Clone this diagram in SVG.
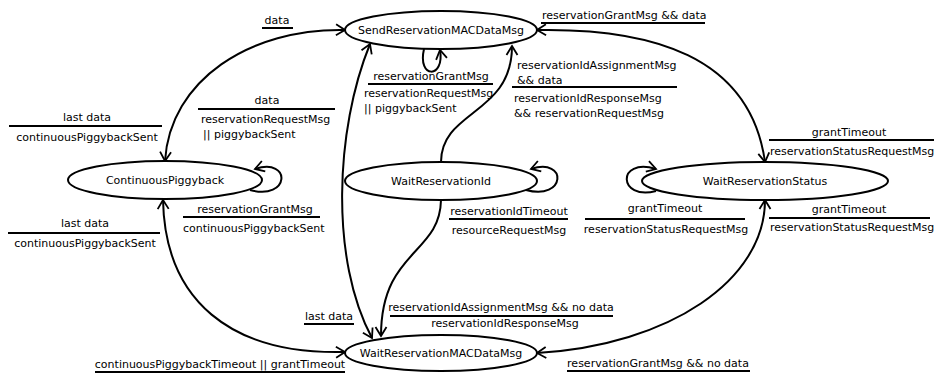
<svg xmlns="http://www.w3.org/2000/svg" width="934" height="377" viewBox="0 0 934 377">
<style>
text{font-family:"DejaVu Sans","Liberation Sans",sans-serif;font-size:11px;fill:#000}
.node{fill:#fff;stroke:#000;stroke-width:2}
.edge{fill:none;stroke:#000;stroke-width:2}
.bar{stroke:#000;stroke-width:2}
.c{text-anchor:middle}
</style>
<defs>
<marker id="arr" viewBox="-2 -2 14 15" refX="9" refY="5.5" markerWidth="14" markerHeight="15" markerUnits="userSpaceOnUse" orient="auto-start-reverse">
<path d="M0,0 L9,5.5 L0,11" fill="none" stroke="#000" stroke-width="1.8"/>
</marker>
</defs>
<rect width="934" height="377" fill="#fff"/>
<g id="connectors">
<path class="edge" d="M345,30 C250,28 170,80 165,161" marker-start="url(#arr)" marker-end="url(#arr)"/>
<path class="edge" d="M424,49 C417,79 445,79 440,50" marker-end="url(#arr)"/>
<path class="edge" d="M537,30 C650,28 750,55 765,162" marker-start="url(#arr)" marker-end="url(#arr)"/>
<path class="edge" d="M370,44 C335,130 330,260 372,338" marker-start="url(#arr)" marker-end="url(#arr)"/>
<path class="edge" d="M441,162 C441,110 512,115 512,46" marker-end="url(#arr)"/>
<path class="edge" d="M441,200 C440,255 381,250 381,336" marker-end="url(#arr)"/>
<path class="edge" d="M163,200 C165,300 230,355 345,352" marker-start="url(#arr)" marker-end="url(#arr)"/>
<path class="edge" d="M537,353 C670,345 765,280 765,200" marker-start="url(#arr)" marker-end="url(#arr)"/>
<path class="edge" d="M250,190 C290,201 292,157 255,169" marker-end="url(#arr)"/>
<path class="edge" d="M526,190 C566,201 568,157 531,169" marker-end="url(#arr)"/>
<path class="edge" d="M656,191 C618,201 616,157 656,169" marker-end="url(#arr)"/>
</g>
<g id="labels">
<text x="277" y="24" class="c">data</text>
<line class="bar" x1="262" y1="28" x2="293" y2="28"/>
<text x="542" y="19">reservationGrantMsg &amp;&amp; data</text>
<line class="bar" x1="541" y1="23" x2="705" y2="23"/>
<text x="87" y="121" class="c">last data</text>
<line class="bar" x1="9" y1="126" x2="162" y2="126"/>
<text x="87" y="141" class="c">continuousPiggybackSent</text>
<text x="267" y="104" class="c">data</text>
<line class="bar" x1="198" y1="109" x2="335" y2="109"/>
<text x="201" y="123">reservationRequestMsg</text>
<text x="203" y="138">|| piggybackSent</text>
<text x="431" y="80" class="c">reservationGrantMsg</text>
<line class="bar" x1="368" y1="84" x2="493" y2="84"/>
<text x="364" y="97">reservationRequestMsg</text>
<text x="364" y="112">|| piggybackSent</text>
<text x="517" y="69">reservationIdAssignmentMsg</text>
<text x="517" y="84"> &amp;&amp; data</text>
<line class="bar" x1="512" y1="87" x2="677" y2="87"/>
<text x="514" y="102">reservationIdResponseMsg</text>
<text x="514" y="117">&amp;&amp; reservationRequestMsg</text>
<text x="849" y="136" class="c">grantTimeout</text>
<line class="bar" x1="769" y1="140" x2="934" y2="140"/>
<text x="770" y="155">reservationStatusRequestMsg</text>
<text x="255" y="213" class="c">reservationGrantMsg</text>
<line class="bar" x1="183" y1="217" x2="320" y2="217"/>
<text x="183" y="232">continuousPiggybackSent</text>
<text x="85" y="227" class="c">last data</text>
<line class="bar" x1="8" y1="233" x2="160" y2="233"/>
<text x="85" y="247" class="c">continuousPiggybackSent</text>
<text x="509" y="215" class="c">reservationIdTimeout</text>
<line class="bar" x1="449" y1="219" x2="568" y2="219"/>
<text x="509" y="234" class="c">resourceRequestMsg</text>
<text x="665" y="212" class="c">grantTimeout</text>
<line class="bar" x1="585" y1="219" x2="745" y2="219"/>
<text x="666" y="233" class="c">reservationStatusRequestMsg</text>
<text x="849" y="213" class="c">grantTimeout</text>
<line class="bar" x1="769" y1="218" x2="930" y2="218"/>
<text x="770" y="231">reservationStatusRequestMsg</text>
<text x="501" y="311" class="c">reservationIdAssignmentMsg &amp;&amp; no data</text>
<line class="bar" x1="390" y1="316" x2="613" y2="316"/>
<text x="505" y="327" class="c">reservationIdResponseMsg</text>
<text x="329" y="320" class="c">last data</text>
<line class="bar" x1="304" y1="324" x2="354" y2="324"/>
<text x="220" y="368" class="c">continuousPiggybackTimeout || grantTimeout</text>
<line class="bar" x1="95" y1="372" x2="345" y2="372"/>
<text x="658" y="367" class="c">reservationGrantMsg &amp;&amp; no data</text>
<line class="bar" x1="567" y1="371" x2="750" y2="371"/>
</g>
<g id="n-send"><ellipse class="node" cx="441" cy="30" rx="96" ry="19"/><text x="441" y="34" class="c">SendReservationMACDataMsg</text></g>
<g id="n-cont"><ellipse class="node" cx="165" cy="180" rx="97" ry="19"/><text x="165" y="184" class="c">ContinuousPiggyback</text></g>
<g id="n-waitid"><ellipse class="node" cx="441" cy="181" rx="96" ry="19"/><text x="441" y="185" class="c">WaitReservationId</text></g>
<g id="n-waitstatus"><ellipse class="node" cx="765" cy="181" rx="123" ry="19"/><text x="765" y="185" class="c">WaitReservationStatus</text></g>
<g id="n-waitmac"><ellipse class="node" cx="441" cy="353" rx="96" ry="18"/><text x="441" y="357" class="c">WaitReservationMACDataMsg</text></g>
</svg>
